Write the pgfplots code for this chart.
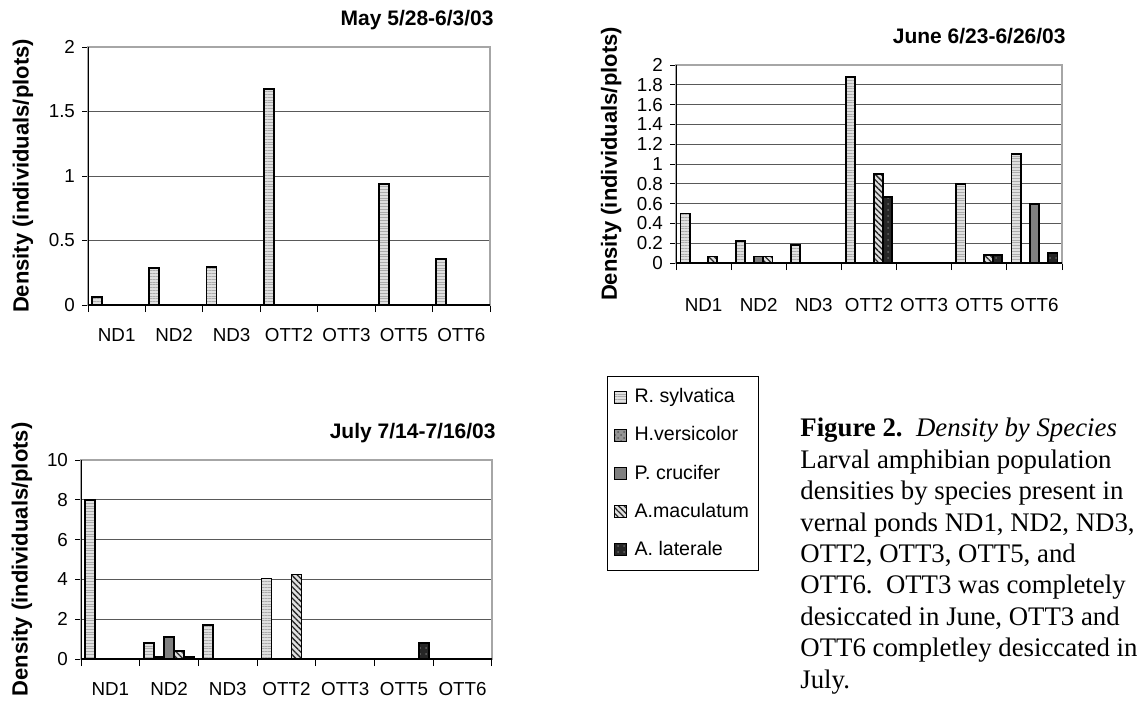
\documentclass[border=0pt]{standalone}
\usepackage{fontspec}
\setmainfont{Liberation Sans}
\newfontfamily\seriffont{Liberation Serif}
\usepackage{pgfplots}
\pgfplotsset{compat=1.18}
\usetikzlibrary{patterns,patterns.meta}

\pgfplotsset{
  panel/.style={
    scale only axis, ybar, ymin=0,
    xmin=-0.5, xmax=6.5, xtick={0,...,6},
    xticklabels={ND1,ND2,ND3,OTT2,OTT3,OTT5,OTT6},
    minor xtick={-0.5,0.5,...,6.5},
    major x tick style={draw=none},
    tick align=outside, xtick pos=bottom, ytick pos=left,
    major tick length=3pt, minor tick length=3.5pt,
    tick style={black, line width=0.5pt},
    ymajorgrids, grid style={black!65, line width=0.5pt},
    axis line style={draw=gray!70, line width=0.6pt},
    ticklabel style={font=\fontsize{9.4}{11}\selectfont},
    xticklabel style={yshift=-5pt},
    /pgf/number format/assume math mode=true,
    title style={anchor=base east, at={(axis description cs:1,1)}, inner sep=0pt,
      font=\bfseries\fontsize{10.5}{12}\selectfont, yshift=5pt, xshift=2pt},
    ylabel={Density (individuals/plots)},
    legend image code/.code={\draw[##1, line width=0.5pt] (0pt,-3pt) rectangle (6pt,3pt);},
  },
  rs/.style={draw=black, line width=0.9pt, fill=black!12,
    postaction={pattern={Lines[angle=0,distance=1.4pt,line width=0.45pt]}, pattern color=gray!65}},
  hv/.style={draw=black, line width=0.9pt, fill=black!42,
    postaction={pattern=crosshatch dots, pattern color=black!65}},
  pc/.style={draw=black, line width=0.9pt, fill=black!50},
  am/.style={draw=black, line width=0.9pt, fill=black!12,
    postaction={pattern={Lines[angle=-45,distance=2pt,line width=0.65pt]}, pattern color=black!85}},
  al/.style={draw=black, line width=0.9pt, fill=black!85,
    postaction={pattern=dots, pattern color=black!60}},
}

\begin{document}
\begin{tikzpicture}
\useasboundingbox (0,0) rectangle (571.5pt,-351pt);

% ---------------- May ----------------
\begin{axis}[panel, at={(44pt,-152.5pt)}, anchor=south west,
  width=201pt, height=129pt, ymax=2, ytick={0,0.5,1,1.5,2},
  bar width=5pt, title={May 5/28-6/3/03},
  every axis y label/.style={at={(axis description cs:-0.162,0.5)}, rotate=90, anchor=center,
    font=\bfseries\fontsize{11}{13}\selectfont}]
\addplot[rs, bar shift=-10pt] coordinates {(0,0.065) (1,0.285) (2,0.297) (3,1.677) (5,0.937) (6,0.357)};
\draw[black, line width=0.7pt] (rel axis cs:0,1) -- (rel axis cs:0,0) -- (rel axis cs:1,0);
\end{axis}

% ---------------- June ----------------
\begin{axis}[panel, at={(338pt,-131.5pt)}, anchor=south west,
  width=193pt, height=99pt, ymax=2, ytick={0,0.2,0.4,0.6,0.8,1,1.2,1.4,1.6,1.8,2},
  bar width=4.6pt, title={June 6/23-6/26/03},
  xticklabel style={yshift=-6pt},
  every axis y label/.style={at={(axis description cs:-0.168,0.5)}, rotate=90, anchor=center,
    font=\bfseries\fontsize{11}{13}\selectfont}]
\addplot[rs, bar shift=-9.2pt] coordinates {(0,0.5) (1,0.22) (2,0.18) (3,1.88) (5,0.8) (6,1.1)};
\addplot[pc, bar shift=0pt] coordinates {(1,0.065) (6,0.6)};
\addplot[am, bar shift=4.6pt] coordinates {(0,0.065) (1,0.065) (3,0.9) (5,0.08)};
\addplot[al, bar shift=9.2pt] coordinates {(3,0.67) (5,0.08) (6,0.1)};
\draw[black, line width=0.7pt] (rel axis cs:0,1) -- (rel axis cs:0,0) -- (rel axis cs:1,0);
\end{axis}

% ---------------- July ----------------
\begin{axis}[panel, at={(40.5pt,-329.5pt)}, anchor=south west,
  width=205.5pt, height=99.5pt, ymax=10, ytick={0,2,4,6,8,10},
  bar width=5pt, title={July 7/14-7/16/03},
  every axis y label/.style={at={(axis description cs:-0.1436,0.5)}, rotate=90, anchor=center,
    font=\bfseries\fontsize{11}{13}\selectfont},
  legend style={at={(axis description cs:1.28,1.422)}, anchor=north west,
    draw=black, line width=0.5pt, inner xsep=3pt, inner ysep=4pt,
    font=\fontsize{9.8}{11}\selectfont, row sep=6.5pt,
    /tikz/every odd column/.append style={column sep=2pt}},
  legend cell align=left]
\addplot[rs, bar shift=-10pt] coordinates {(0,8) (1,0.8) (2,1.7) (3,4.05)};
\addplot[hv, bar shift=-5pt] coordinates {(1,0.12)};
\addplot[pc, bar shift=0pt] coordinates {(1,1.1)};
\addplot[am, bar shift=5pt] coordinates {(1,0.4) (3,4.25)};
\addplot[al, bar shift=10pt] coordinates {(1,0.12) (5,0.8)};
\legend{R. sylvatica, H.versicolor, P. crucifer, A.maculatum, A. laterale}
\draw[black, line width=0.7pt] (rel axis cs:0,1) -- (rel axis cs:0,0) -- (rel axis cs:1,0);
\end{axis}

% ---------------- Caption ----------------
\node[anchor=base west, align=left, inner sep=0pt,
  font=\seriffont\fontsize{13.4}{15.7}\selectfont] at (400pt,-344pt)
  {\textbf{Figure 2.}\ \ \textit{Density by Species}\\
   Larval amphibian population\\
   densities by species present in\\
   vernal ponds ND1, ND2, ND3,\\
   OTT2, OTT3, OTT5, and\\
   OTT6.\ \ OTT3 was completely\\
   desiccated in June, OTT3 and\\
   OTT6 completley desiccated in\\
   July.};
\end{tikzpicture}
\end{document}
